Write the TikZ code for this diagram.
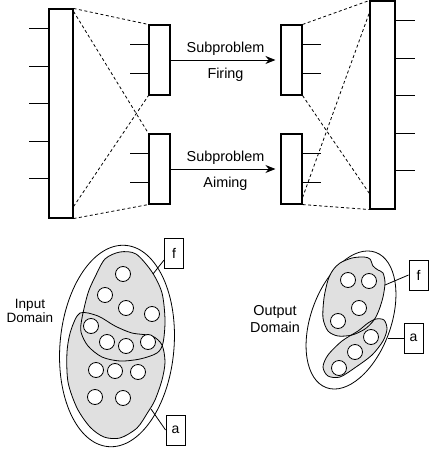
\documentclass[tikz,border=0pt]{standalone}
\usepackage{fontspec}
\setmainfont{Liberation Sans}
\usetikzlibrary{arrows.meta}

\tikzset{
  whole/.style={draw, line width=1.1pt, inner sep=0pt, minimum width=24pt, minimum height=209pt},
  part/.style={draw, line width=1.1pt, inner sep=0pt, minimum width=21pt, minimum height=70pt},
  link/.style={line width=0.8pt, dash pattern=on 3pt off 2.5pt},
  flow/.style={line width=0.9pt, -{Stealth[length=10pt,width=8pt]}, shorten >=5pt},
  tag/.style={draw, line width=0.9pt, inner sep=0pt, minimum width=19pt, minimum height=30pt,
    font=\fontsize{14}{16}\selectfont},
  region/.style={line width=0.8pt, fill=black!12},
  item/.style={line width=0.8pt, fill=white},
}

\begin{document}
\begin{tikzpicture}[x=1pt, y=-1pt, line width=0.8pt,
    every node/.style={font=\fontsize{14.4}{17}\selectfont}]
   \useasboundingbox (0,0) rectangle (429,454);

   % top: split into two subproblems and join again
   \node[whole] (bigL) at (61,113.5) {};
   \node[part] (firingL) at (159.5,60) {};
   \node[part] (aimingL) at (159.5,169) {};
   \node[part] (firingR) at (291.5,60) {};
   \node[part] (aimingR) at (291.5,169) {};
   \node[whole, minimum width=25pt, minimum height=208pt] (bigR) at (382.5,105) {};

   \foreach \d in {20,57.5,...,170} {
     \draw (bigL.north west) ++(0,\d) -- ++(-19,0);
     \draw (bigR.north east) ++(0,\d) -- ++(19,0);
   }
   \foreach \n in {firingL,aimingL} {
     \foreach \d in {19.5,49}
       \draw (\n.north west) ++(0,\d) -- ++(-18,0);
   }
   \foreach \n in {firingR,aimingR} {
     \foreach \d in {19.5,49}
       \draw (\n.north east) ++(0,\d) -- ++(18,0);
   }

   \draw[link] (bigL.north east) -- (firingL.north west);
   \draw[link] ([yshift=-3pt]bigL.north east) -- (aimingL.north west);
   \draw[link] ([yshift=12pt]bigL.south east) -- (firingL.south west);
   \draw[link] (bigL.south east) -- (aimingL.south west);
   \draw[link] (firingR.north east) -- (bigR.north west);
   \draw[link] (firingR.south east) -- ([yshift=16pt]bigR.south west);
   \draw[link] ([yshift=7pt]aimingR.south east) -- ([yshift=-12pt]bigR.north west);
   \draw[link] (aimingR.south east) -- (bigR.south west);

   \draw[flow] (firingL) -- node[above=1pt] {Subproblem} node[below=4pt] {Firing} (firingR);
   \draw[flow] (aimingL) -- node[above=1pt] {Subproblem} node[below=4pt] {Aiming} (aimingR);

   % bottom left: input domain
   \node[align=center, font=\fontsize{13.5}{14}\selectfont] (inLabel) at (30,311) {Input\\Domain};
   \draw (117,346) ellipse [x radius=57pt, y radius=101pt, rotate=-5];
   \path[region] plot[smooth cycle] coordinates {(80,313) (98,316) (115,326) (132,333) (152,336)
     (162,345) (165,362) (162,380) (155,400) (148,412) (137,428) (120,438) (104,437) (90,427)
     (77,408) (68,382) (67,352) (71,330)};
   \path[region] plot[smooth cycle] coordinates {(82,318) (88,293) (95,277) (105,259) (120,252)
     (136,254) (152,272) (162,293) (165,320) (163,343) (157,353) (140,359) (120,361) (102,357)
     (88,346) (81,332)};
   \draw plot[smooth cycle] coordinates {(80,313) (98,316) (115,326) (132,333) (152,336)
     (162,345) (165,362) (162,380) (155,400) (148,412) (137,428) (120,438) (104,437) (90,427)
     (77,408) (68,382) (67,352) (71,330)};
   \draw plot[smooth cycle] coordinates {(82,318) (88,293) (95,277) (105,259) (120,252)
     (136,254) (152,272) (162,293) (165,320) (163,343) (157,353) (140,359) (120,361) (102,357)
     (88,346) (81,332)};
   \foreach \p in {(123,274),(105,295),(126,308),(152,314),(91,326),(107,342),(126,346),
                   (148,342),(96,370),(115,371),(138,372),(95,397),(123,398)}
     \draw[item] \p circle[radius=7.5pt];

   \node[tag] (fIn) at (174,253) {f};
   \node[tag] (aIn) at (175.5,430) {a};
   \coordinate (fInEnd) at (153,274);
   \coordinate (aInEnd) at (151,409);
   \draw ([yshift=-7pt]fIn.west) -- (fInEnd);
   \draw (aIn.west) -- (aInEnd);

   % bottom right: output domain
   \node[align=center] (outLabel) at (275,319) {Output\\Domain};
   \draw (351,320) ellipse [x radius=40pt, y radius=72pt, rotate=-20];
   \path[region] plot[smooth cycle] coordinates {(340,263) (352,258) (364,257) (370,259)
     (373,266) (378,270) (383,273) (385,283) (383,297) (379,310) (374,320) (365,329) (352,335)
     (338,336) (328,331) (323,318) (324,298) (328,280) (333,270)};
   \path[region] plot[smooth cycle] coordinates {(376,319) (384,320) (387,329) (383,341)
     (372,355) (356,367) (340,377) (328,376) (323,367) (328,355) (342,341) (358,331) (368,323)};
   \draw plot[smooth cycle] coordinates {(340,263) (352,258) (364,257) (370,259)
     (373,266) (378,270) (383,273) (385,283) (383,297) (379,310) (374,320) (365,329) (352,335)
     (338,336) (328,331) (323,318) (324,298) (328,280) (333,270)};
   \draw plot[smooth cycle] coordinates {(376,319) (384,320) (387,329) (383,341)
     (372,355) (356,367) (340,377) (328,376) (323,367) (328,355) (342,341) (358,331) (368,323)};
   \foreach \p in {(348,280),(369,281),(359,308),(338,321),(371,337),(355,352),(339,368)}
     \draw[item] \p circle[radius=7.5pt];

   \node[tag] (fOut) at (418.5,275) {f};
   \node[tag] (aOut) at (413.5,338) {a};
   \coordinate (fOutEnd) at (385,285);
   \coordinate (aOutEnd) at (388,338);
   \draw (fOut.west) -- (fOutEnd);
   \draw (aOut.west) -- (aOutEnd);
\end{tikzpicture}
\end{document}
